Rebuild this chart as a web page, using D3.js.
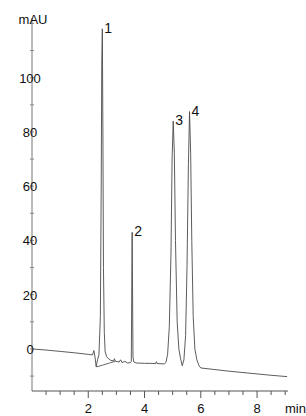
<!DOCTYPE html>
<html>
<head>
<meta charset="utf-8">
<script src="https://cdn.jsdelivr.net/npm/d3@7"></script>
<style>
  body { margin: 0; background: #fff; }
  svg text { font-family: "Liberation Sans", Arial, sans-serif; fill: #111; }
</style>
</head>
<body>
<svg width="306" height="416"></svg>
<script>
// chromatogram trace, time (min) and signal (mAU)
var traceT = [0, 0.5, 1.0, 1.5, 2.0, 2.15, 2.2, 2.24, 2.28, 2.33, 2.38, 2.43, 2.46, 2.48, 2.5, 2.52, 2.54, 2.57, 2.6, 2.65, 2.72, 2.8, 2.9, 2.93, 2.96, 3.1, 3.15, 3.2, 3.3, 3.4, 3.5, 3.53, 3.56, 3.59, 3.62, 3.7, 3.8, 4.0, 4.2, 4.4, 4.42, 4.45, 4.7, 4.76, 4.82, 4.88, 4.94, 4.98, 5.02, 5.06, 5.1, 5.16, 5.22, 5.28, 5.34, 5.4, 5.46, 5.51, 5.56, 5.6, 5.64, 5.68, 5.73, 5.79, 5.86, 5.94, 6.0, 6.5, 7.0, 7.5, 8.0, 8.5, 9.07];
var traceV = [0, -0.4, -0.9, -1.4, -2.0, -2.2, -0.6, -3, -6.5, -4, -2, 12, 60, 105, 118, 80, 30, 6, -1, -2.8, -3.6, -4.2, -4.4, -3.6, -4.5, -4.8, -4.0, -5.0, -4.6, -5.2, -5.0, -4.6, 43, -3, -4.8, -5.2, -5.2, -5.3, -5.3, -5.4, -4.7, -5.4, -5.5, -5, -2, 8, 35, 70, 84, 72, 40, 10, 0, -3.5, -6.2, -4, 5, 30, 68, 87.5, 72, 40, 12, 0, -4, -6.2, -7, -7.6, -8.2, -8.7, -9.2, -9.7, -10.2];

// second (lower) trace segment after the first peak
var lowerT = [2.28, 2.5, 2.75, 2.95];
var lowerV = [-6.6, -6.0, -5.2, -4.6];

// peak annotations
var peakNames = ["1", "2", "3", "4"];
var peakT = [2.5, 3.56, 5.02, 5.6];
var peakV = [118, 43, 84, 87.5];

var yLabels = [0, 20, 40, 60, 80, 100];
var xLabels = [2, 4, 6, 8];

var svg = d3.select("svg");

var x = d3.scaleLinear().domain([0, 9.1]).range([32, 288]);
var y = d3.scaleLinear().domain([-15.5, 122]).range([391, 18]);

// y axis line + ticks
svg.append("line")
  .attr("x1", 32).attr("x2", 32)
  .attr("y1", y(122)).attr("y2", y(-15.5))
  .attr("stroke", "#777").attr("stroke-width", 1);

svg.append("g").selectAll("line")
  .data(d3.range(-10, 121, 10))
  .enter().append("line")
  .attr("x1", 30).attr("x2", 34)
  .attr("y1", function(d) { return y(d); })
  .attr("y2", function(d) { return y(d); })
  .attr("stroke", "#888");

svg.append("g").selectAll("text")
  .data(yLabels)
  .enter().append("text")
  .attr("x", 30)
  .attr("y", function(d) { return y(d) + 5; })
  .attr("text-anchor", "middle")
  .style("font-size", "13px")
  .text(function(d) { return d; });

svg.append("text")
  .attr("x", 33).attr("y", 24)
  .attr("text-anchor", "middle")
  .style("font-size", "13px")
  .text("mAU");

// x axis
svg.append("line")
  .attr("x1", x(0)).attr("x2", x(9.1))
  .attr("y1", 391).attr("y2", 391)
  .attr("stroke", "#555");

svg.append("g").selectAll("line")
  .data(d3.range(0.5, 9.01, 0.5))
  .enter().append("line")
  .attr("x1", function(d) { return x(d); })
  .attr("x2", function(d) { return x(d); })
  .attr("y1", 391)
  .attr("y2", function(d) { return d % 2 === 0 ? 398 : 395; })
  .attr("stroke", "#555");

svg.append("g").selectAll("text")
  .data(xLabels)
  .enter().append("text")
  .attr("x", function(d) { return x(d); })
  .attr("y", 413)
  .attr("text-anchor", "middle")
  .style("font-size", "13px")
  .text(function(d) { return d; });

svg.append("text")
  .attr("x", 285).attr("y", 413)
  .style("font-size", "13px")
  .text("min");

// traces
var line = d3.line()
  .x(function(d) { return x(d[0]); })
  .y(function(d) { return y(d[1]); });

svg.append("path")
  .datum(traceT.map(function(t, i) { return [t, traceV[i]]; }))
  .attr("d", line)
  .attr("fill", "none")
  .attr("stroke", "#4a4a4a")
  .attr("stroke-width", 0.9);

svg.append("path")
  .datum(lowerT.map(function(t, i) { return [t, lowerV[i]]; }))
  .attr("d", line)
  .attr("fill", "none")
  .attr("stroke", "#555")
  .attr("stroke-width", 0.9);

// peak labels
svg.append("g").selectAll("text")
  .data(peakNames)
  .enter().append("text")
  .attr("x", function(d, i) { return x(peakT[i]) + 2; })
  .attr("y", function(d, i) { return y(peakV[i]) + 4; })
  .style("font-size", "14px")
  .text(function(d) { return d; });
</script>
</body>
</html>
